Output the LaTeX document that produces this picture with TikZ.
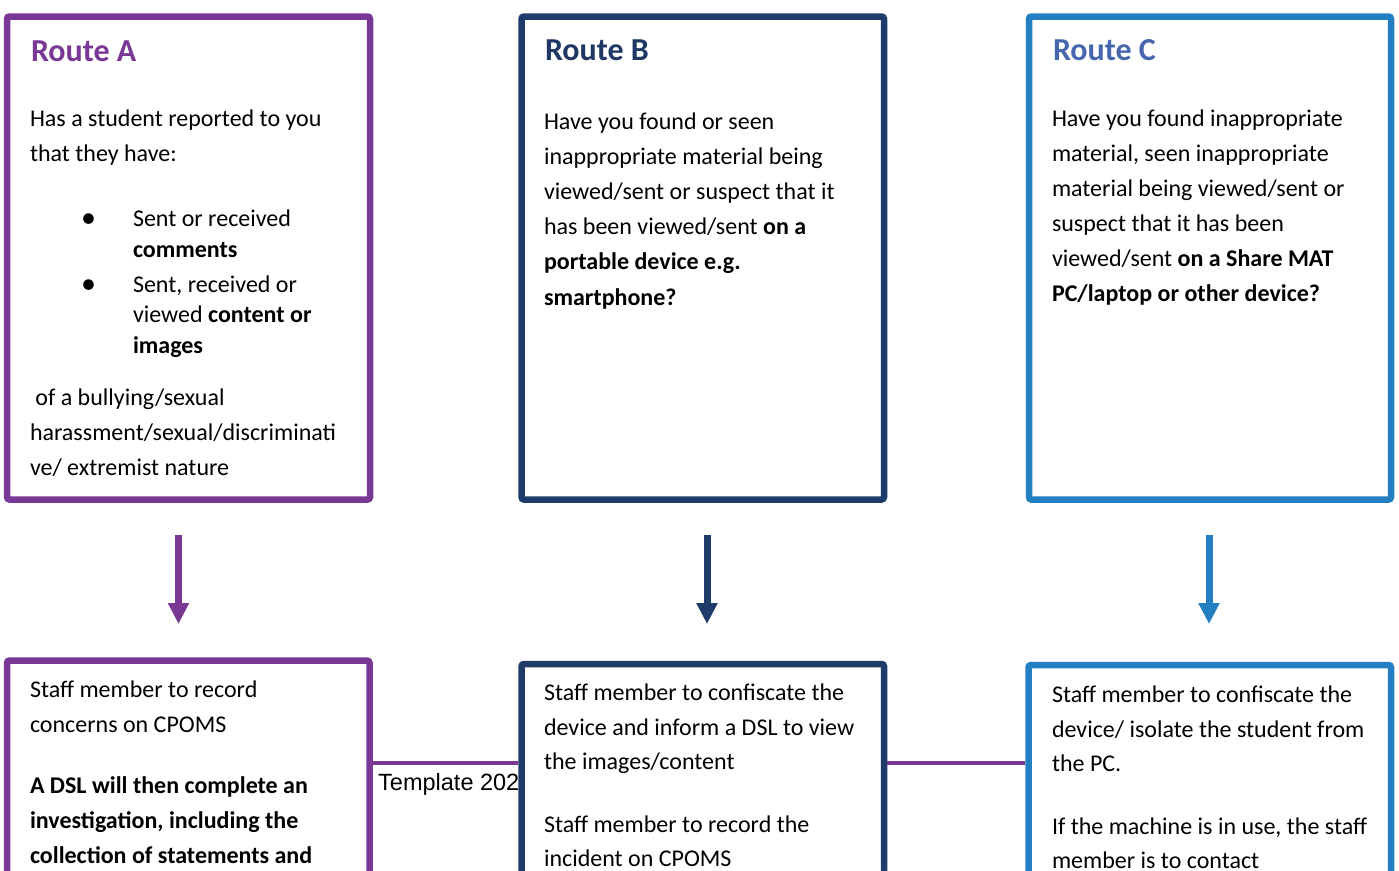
\documentclass[tikz,border=0pt]{standalone}
\usepackage{fontspec}
\setmainfont{Carlito}
\newfontfamily\arialfont{Liberation Sans}
\usetikzlibrary{arrows.meta}
\definecolor{cpurple}{RGB}{122,56,150}
\definecolor{cnavy}{RGB}{30,59,105}
\definecolor{cnavyhead}{RGB}{31,56,100}
\definecolor{cblue}{RGB}{34,127,194}
\definecolor{cbluehead}{RGB}{70,102,174}
\newcommand\natsp{\spaceskip=0pt\xspaceskip=0pt\relax}
\tikzset{
  rbox/.style={draw, rectangle, rounded corners=2.5pt, line width=6.5pt, inner sep=0pt, fill=white},
  headtxt/.style={anchor=base west, inner sep=0pt, outer sep=0pt, font=\fontsize{32}{38}\selectfont\bfseries},
  body/.style={anchor=base west, inner sep=0pt, outer sep=0pt, text width=360pt, align=left, font=\fontsize{24}{35}\selectfont},
  bul/.style={anchor=base, inner sep=0pt, outer sep=0pt, font=\fontsize{30}{30}\selectfont},
  arr/.style={line width=7pt, -{Triangle[width=20pt,length=21pt]}},
  link/.style={draw=cpurple, line width=3.5pt}
}
\begin{document}
\begin{tikzpicture}[x=1pt,y=-1pt]
\useasboundingbox (0,0) rectangle (1399,870);
\clip (0,0) rectangle (1399,870);
\fill[white] (0,0) rectangle (1399,870);
% top boxes
\node[rbox, draw=cpurple, minimum width=363pt, minimum height=483pt] (boxA) at (188.5,258) {};
\node[rbox, draw=cnavy, minimum width=362.5pt, minimum height=483pt] (boxB) at (702.75,258) {};
\node[rbox, draw=cblue, minimum width=362pt, minimum height=483pt] (boxC) at (1210,258) {};
% headings
\node[headtxt, text=cpurple] (hA) at (31,61) {Route A};
\node[headtxt, text=cnavyhead] (hB) at (545,60) {Route B};
\node[headtxt, text=cbluehead] (hC) at (1053,60) {Route C};
% Route A text
\node[body] (tA1) at (30,126) {\natsp Has a student reported to you\\that they have:};
\node[bul] (bA1) at (88.5,227.5) {•};
\node[body, font=\fontsize{24}{31}\selectfont] (tA2) at (133,226) {\natsp Sent or received\\\textbf{comments}};
\node[bul] (bA2) at (88.5,293.5) {•};
\node[body, font=\fontsize{24}{30.5}\selectfont] (tA3) at (133,292) {\natsp Sent, received or\\viewed \textbf{content or}\\\textbf{images}};
\node[body] (tA4) at (30,405) {\natsp\hspace*{5.4pt}of a bullying/sexual\\harassment/sexual/discriminati\\ve/ extremist nature};
% Route B text
\node[body, font=\fontsize{24}{35.2}\selectfont] (tB1) at (544,129) {\natsp Have you found or seen\\inappropriate material being\\viewed/sent or suspect that it\\has been viewed/sent \textbf{on a}\\\textbf{portable device e.g.}\\\textbf{smartphone?}};
% Route C text
\node[body] (tC1) at (1052,126) {\natsp Have you found inappropriate\\material, seen inappropriate\\material being viewed/sent or\\suspect that it has been\\viewed/sent \textbf{on a Share MAT}\\\textbf{PC/laptop or other device?}};
% arrows
\coordinate (aA1) at (178.5,535); \coordinate (aA2) at (178.5,624);
\coordinate (aB1) at (707,535); \coordinate (aB2) at (707,624);
\coordinate (aC1) at (1209,535); \coordinate (aC2) at (1209,624);
\draw[arr, cpurple] (aA1) -- (aA2);
\draw[arr, cnavy] (aB1) -- (aB2);
\draw[arr, cblue] (aC1) -- (aC2);
% bottom boxes
\node[rbox, draw=cpurple, minimum width=362.5pt, minimum height=400pt] (boxA2) at (188.25,860.5) {};
\node[anchor=base west, inner sep=0pt, font=\fontsize{23.5}{27}\selectfont\arialfont] (tmpl) at (378,790) {Template 202};
\node[rbox, draw=cnavy, minimum width=362.5pt, minimum height=400pt] (boxB2) at (702.75,864) {};
\node[rbox, draw=cblue, minimum width=362.5pt, minimum height=400pt] (boxC2) at (1209.75,865) {};
\coordinate (lk) at (0,763);
\draw[link] (boxA2.east |- lk) -- (boxB2.west |- lk);
\draw[link] (boxB2.east |- lk) -- (boxC2.west |- lk);
% bottom texts
\node[body] (tA5) at (30,697.5) {\natsp Staff member to record\\concerns on CPOMS};
\node[body, font=\fontsize{24}{35}\selectfont\bfseries] (tA6) at (30,793.5) {\natsp A DSL will then complete an\\investigation, including the\\collection of statements and};
\node[body, font=\fontsize{24}{34.5}\selectfont] (tB2) at (544,700.5) {\natsp Staff member to confiscate the\\device and inform a DSL to view\\the images/content};
\node[body, font=\fontsize{24}{34}\selectfont] (tB3) at (544,832.5) {\natsp Staff member to record the\\incident on CPOMS};
\node[body, font=\fontsize{24}{34.5}\selectfont] (tC2) at (1052,702.5) {\natsp Staff member to confiscate the\\device/ isolate the student from\\the PC.};
\node[body, font=\fontsize{24}{34}\selectfont] (tC3) at (1052,834.5) {\natsp If the machine is in use, the staff\\member is to contact};
\end{tikzpicture}
\end{document}
